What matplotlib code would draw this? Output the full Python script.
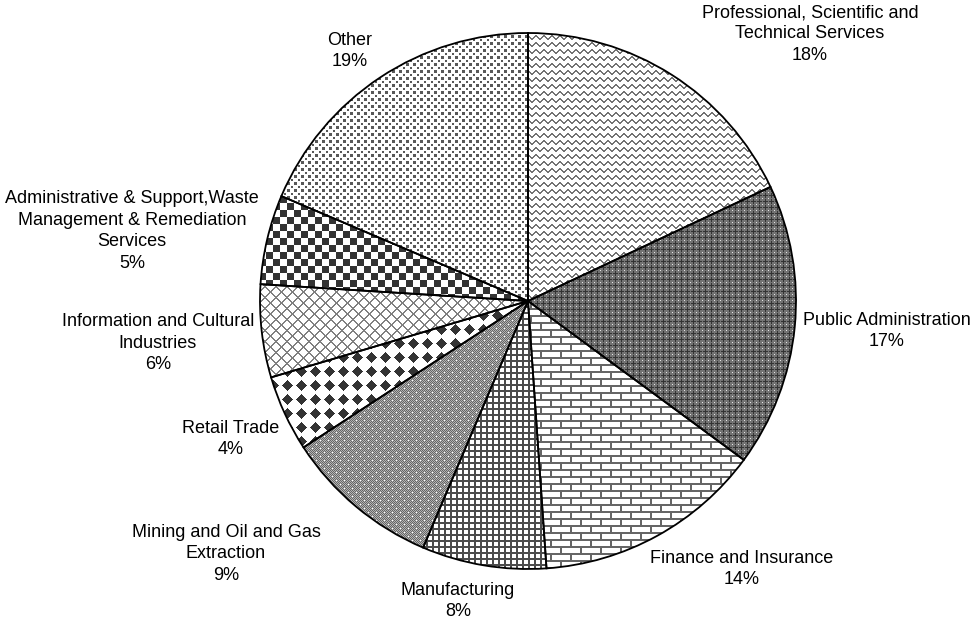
import numpy as np
import matplotlib.pyplot as plt

plt.rcParams['font.family'] = ['Liberation Sans', 'DejaVu Sans']

sectors = ['Professional, Scientific and\nTechnical Services',
           'Public Administration',
           'Finance and Insurance',
           'Manufacturing',
           'Mining and Oil and Gas\nExtraction',
           'Retail Trade',
           'Information and Cultural\nIndustries',
           'Administrative & Support,Waste\nManagement & Remediation\nServices',
           'Other']
shares = [18.0, 17.1, 13.8, 7.5, 9.4, 4.6, 5.6, 5.4, 18.6]
pct_labels = ['18%', '17%', '14%', '8%', '9%', '4%', '6%', '5%', '19%']

# label anchor points (pixels from top-left), layout only
label_xy = [(810, 34), (887, 331), (742, 569), (458, 601), (226, 554),
            (231, 439), (158, 343), (132, 231), (350, 51)]

W, H = 974, 624
yy, xx = np.mgrid[0:H, 0:W]


def waves():
    img = np.ones((H, W))
    offs = np.array([0, 1, 2, 3, 3, 2, 1, 0])[xx % 8]
    m = ((yy - offs) % 7 < 2)
    img[m] = 0.45
    return img


def dense_cross():
    img = np.full((H, W), 0.45)
    dx, dy = xx % 6 - 3, yy % 6 - 3
    m = ((dx == 0) & (abs(dy) <= 2)) | ((dy == 0) & (abs(dx) <= 2))
    img[m] = 0.2
    img[(dx == -3) & (dy == -3)] = 0.9
    return img


def bricks():
    img = np.ones((H, W))
    row = yy // 7
    m = (yy % 7 < 2) | (((xx + (row % 2) * 10) % 20) < 2)
    img[m] = 0.4
    return img


def grid():
    img = np.ones((H, W))
    m = (xx % 6 < 2) | (yy % 6 < 2)
    img[m] = 0.3
    return img


def fine_check():
    img = np.where((xx + yy) % 2 == 0, 0.4, 0.7)
    m = ((xx % 8 == 0) & (yy % 8 == 0)) | ((xx % 8 == 4) & (yy % 8 == 4))
    img[m] = 1.0
    return img


def diamonds():
    img = np.ones((H, W))
    dx, dy = xx % 14 - 7, yy % 14 - 7
    img[abs(dx) + abs(dy) <= 5] = 0.2
    return img


def lattice():
    img = np.ones((H, W))
    m = ((xx + yy) % 11 < 2) | ((xx - yy) % 11 < 2)
    img[m] = 0.5
    return img


def checker():
    img = np.where(((xx // 7) + (yy // 7)) % 2 == 0, 0.2, 1.0)
    return img


def dots():
    img = np.ones((H, W))
    m = ((xx % 7 < 3) & (yy % 7 < 3)) | (((xx + 3) % 7 < 2) & ((yy + 3) % 7 < 2))
    img[m] = 0.35
    return img


textures = [waves, dense_cross, bricks, grid, fine_check,
            diamonds, lattice, checker, dots]

fig = plt.figure(figsize=(W / 100, H / 100), dpi=100)
ax = fig.add_axes([0, 0, 1, 1])

cx, cy, r = 528, H - 301, 268
wedges, _ = ax.pie(shares, center=(cx, cy), radius=r, startangle=90,
                   counterclock=False, frame=True,
                   wedgeprops=dict(facecolor='none', edgecolor='black',
                                   linewidth=1.3, zorder=3))

for w, tex in zip(wedges, textures):
    im = ax.imshow(tex(), extent=(0, W, 0, H), origin='upper', cmap='gray',
                   vmin=0, vmax=1, interpolation='nearest', zorder=1)
    im.set_clip_path(w)

for name, pct, (lx, ly) in zip(sectors, pct_labels, label_xy):
    ax.text(lx, H - ly, name + '\n' + pct, ha='center', va='center',
            multialignment='center', fontsize=13, linespacing=1.34)

ax.set_xlim(0, W)
ax.set_ylim(0, H)
ax.set_aspect('equal')
ax.axis('off')

fig.savefig('out.png', dpi=100, facecolor='white')
